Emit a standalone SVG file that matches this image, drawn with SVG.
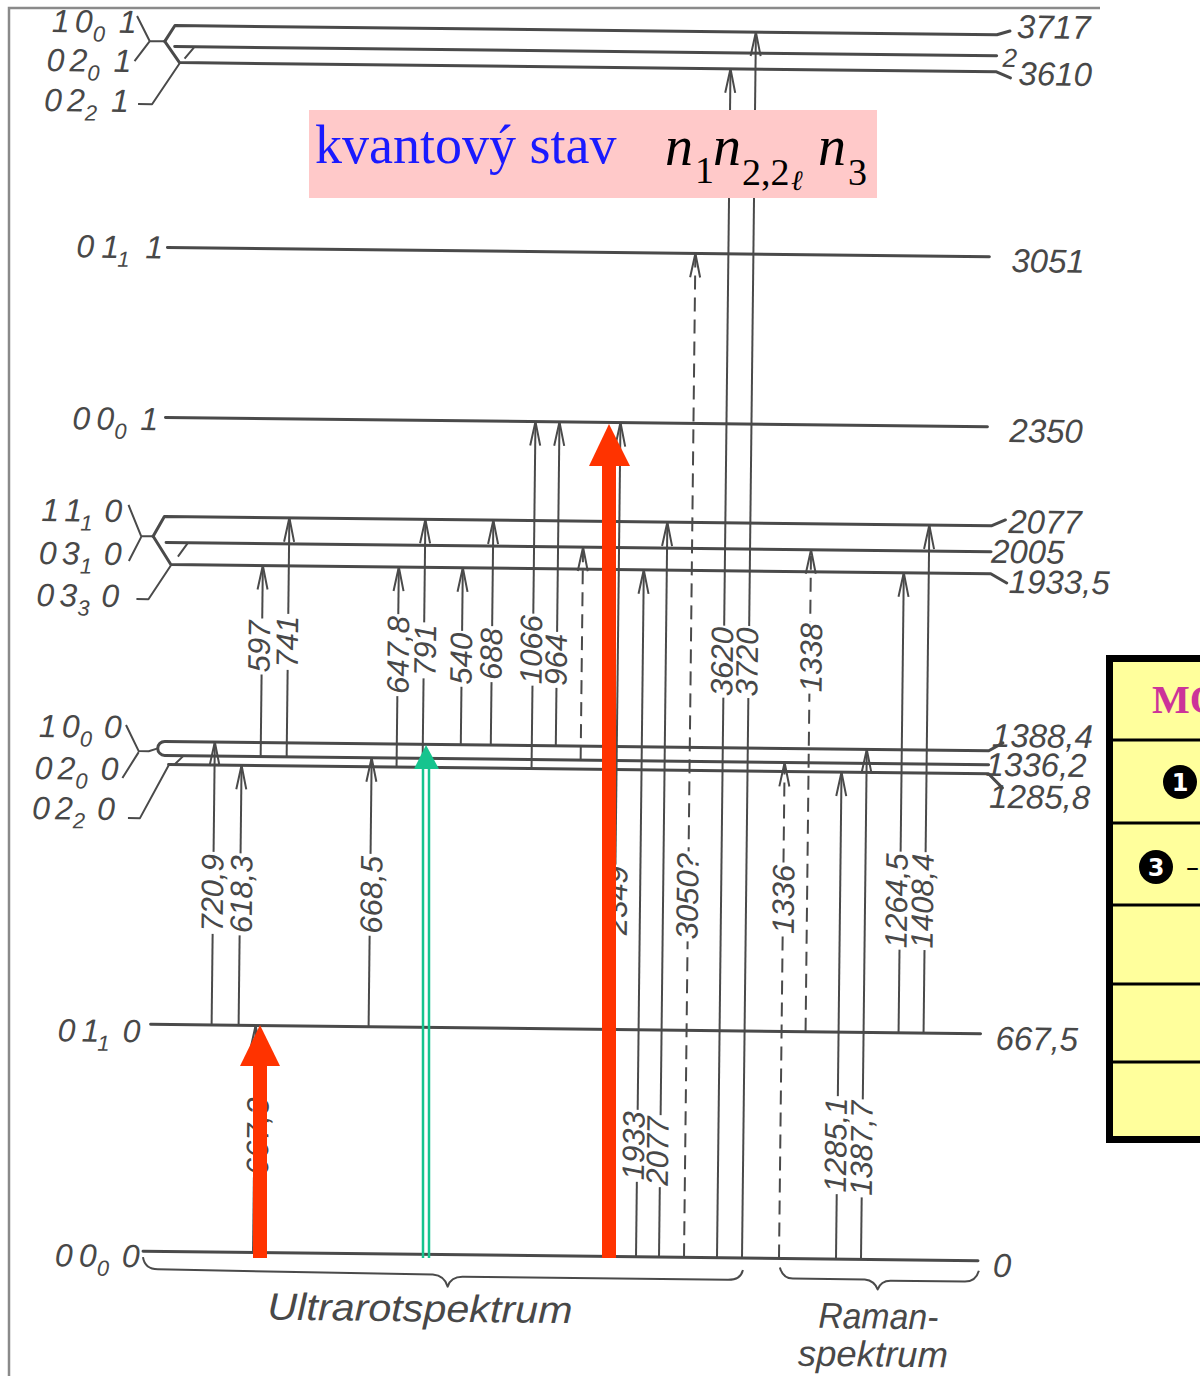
<svg xmlns="http://www.w3.org/2000/svg" width="1200" height="1376" viewBox="0 0 1200 1376">
<defs>
<marker id="ah" markerUnits="userSpaceOnUse" markerWidth="16" markerHeight="30" viewBox="-8 -2 16 30" refX="0" refY="0" orient="0" overflow="visible"><path d="M-5,24 L0,0 L5,24" fill="none" stroke="#4a4a4a" stroke-width="2"/></marker>
<style>
.lv{stroke:#4a4a4a;stroke-width:3;fill:none;stroke-linecap:round;stroke-linejoin:round}
.fk{stroke:#4a4a4a;stroke-width:2;fill:none;stroke-linejoin:round}
.tr{stroke:#4a4a4a;stroke-width:2;fill:none;marker-end:url(#ah)}
.ds{stroke-dasharray:14 8}
.lb{font-family:"Liberation Sans",Arial,sans-serif;font-style:italic;fill:#484848}
.ll{font-size:32px}
.sb{font-size:22px}
.rl{font-size:33px}
.vl text{font-size:31px;text-anchor:middle}
.vl rect{fill:#fff}
</style>
</defs>
<rect width="1200" height="1376" fill="#fff"/>
<path d="M9,1376 L9,8 L1100,8" fill="none" stroke="#8a8a8a" stroke-width="2.5"/>

<g transform="rotate(0.65 570 640)">
<g id="levels">
<path class="lv" d="M158,46 L168,30 L990,30 L1003,26"/>
<path class="lv" d="M168,51 L990,51"/>
<path class="lv" d="M158,46 L173,67 L990,67 L1004,73"/>
<path class="fk" d="M130,21 L143,46 L158,46 M128,66 L143,46 M188,51 L178,63 M132,109 L146,109 L173,68"/>
<path class="lv" d="M163,252 L985,252"/>
<path class="lv" d="M163,422 L985,422"/>
<path class="lv" d="M152,541 L163,521 L990,521 L1004,515"/>
<path class="lv" d="M165,547 L990,547"/>
<path class="lv" d="M152,541 L170,569 L990,569 L1006,578"/>
<path class="fk" d="M127,510 L140,541 L152,541 M128,566 L140,542 M187,547 L177,561 M136,604 L148,604 L170,570"/>
<path class="lv" d="M1004,738 L990,746 L166,746 A7,7 0 0 0 166,760 L990,760"/>
<path class="lv" d="M170,769 L990,769 L1004,783"/>
<path class="fk" d="M127,730 L140,756 L150,756 L159,753 M124,783 L140,757 M185,760 L176,769 M130,823 L142,823 L170,770"/>
<path class="lv" d="M155,1029 L985,1029"/>
<path class="lv" d="M150,1256 L985,1256"/>
</g>

<g id="connectors">
<path class="tr" d="M260,1256 L260,1029"/>
<path class="tr" d="M618,1256 L618,422"/>
<path class="tr" d="M643,1256 L643,569"/>
<path class="tr" d="M666,1256 L666,521"/>
<path class="tr ds" d="M691,1256 L691,252"/>
<path class="tr" d="M724,1256 L724,67"/>
<path class="tr" d="M749,1256 L749,30"/>
<path class="tr ds" d="M786,1256 L786,760"/>
<path class="tr" d="M843,1256 L843,769"/>
<path class="tr" d="M868,1256 L868,746"/>
<path class="tr" d="M216,1029 L216,746"/>
<path class="tr" d="M243,1029 L243,769"/>
<path class="tr" d="M373,1029 L373,760"/>
<path class="tr ds" d="M810,1029 L810,547"/>
<path class="tr" d="M903,1029 L903,569"/>
<path class="tr" d="M928,1029 L928,521"/>
<path class="tr" d="M262,760 L262,569"/>
<path class="tr" d="M288,760 L288,521"/>
<path class="tr" d="M398,769 L398,569"/>
<path class="tr" d="M424,769 L424,521"/>
<path class="tr" d="M462,746 L462,569"/>
<path class="tr" d="M492,746 L492,521"/>
<path class="tr" d="M533,769 L533,422"/>
<path class="tr" d="M557,746 L557,422"/>
<path class="tr ds" d="M582,760 L582,547"/>
</g>

<g id="transition-labels" class="lb vl">
<g transform="translate(259,650) rotate(-90)"><rect x="-28" y="-12" width="56" height="24"/><text y="11">597</text></g>
<g transform="translate(287,645) rotate(-90)"><rect x="-28" y="-12" width="56" height="24"/><text y="11">741</text></g>
<g transform="translate(398,657) rotate(-90)"><rect x="-41" y="-12" width="82" height="24"/><text y="11">647,8</text></g>
<g transform="translate(425,652) rotate(-90)"><rect x="-28" y="-12" width="56" height="24"/><text y="11">791</text></g>
<g transform="translate(461,660) rotate(-90)"><rect x="-28" y="-12" width="56" height="24"/><text y="11">540</text></g>
<g transform="translate(491,655) rotate(-90)"><rect x="-28" y="-12" width="56" height="24"/><text y="11">688</text></g>
<g transform="translate(531,650) rotate(-90)"><rect x="-36" y="-12" width="72" height="24"/><text y="11">1066</text></g>
<g transform="translate(556,660) rotate(-90)"><rect x="-28" y="-12" width="56" height="24"/><text y="11">964</text></g>
<g transform="translate(722,660) rotate(-90)"><rect x="-36" y="-12" width="72" height="24"/><text y="11">3620</text></g>
<g transform="translate(747,660) rotate(-90)"><rect x="-36" y="-12" width="72" height="24"/><text y="11">3720</text></g>
<g transform="translate(811,655) rotate(-90)"><rect x="-36" y="-12" width="72" height="24"/><text y="11">1338</text></g>
<g transform="translate(215,897) rotate(-90)"><rect x="-41" y="-12" width="82" height="24"/><text y="11">720,9</text></g>
<g transform="translate(244,898) rotate(-90)"><rect x="-41" y="-12" width="82" height="24"/><text y="11">618,3</text></g>
<g transform="translate(374,897) rotate(-90)"><rect x="-41" y="-12" width="82" height="24"/><text y="11">668,5</text></g>
<g transform="translate(619,900) rotate(-90)"><rect x="-36" y="-12" width="72" height="24"/><text y="11">2349</text></g>
<g transform="translate(690,895) rotate(-90)"><rect x="-45" y="-12" width="90" height="24"/><text y="11">3050?</text></g>
<g transform="translate(786,897) rotate(-90)"><rect x="-36" y="-12" width="72" height="24"/><text y="11">1336</text></g>
<g transform="translate(899,897) rotate(-90)"><rect x="-49" y="-12" width="98" height="24"/><text y="11">1264,5</text></g>
<g transform="translate(925,897) rotate(-90)"><rect x="-49" y="-12" width="98" height="24"/><text y="11">1408,4</text></g>
<g transform="translate(263,1140) rotate(-90)"><rect x="-41" y="-12" width="82" height="24"/><text y="11">667,3</text></g>
<g transform="translate(639,1145) rotate(-90)"><rect x="-36" y="-12" width="72" height="24"/><text y="11">1933</text></g>
<g transform="translate(663,1150) rotate(-90)"><rect x="-36" y="-12" width="72" height="24"/><text y="11">2077</text></g>
<g transform="translate(841,1142) rotate(-90)"><rect x="-49" y="-12" width="98" height="24"/><text y="11">1285,1</text></g>
<g transform="translate(867,1145) rotate(-90)"><rect x="-49" y="-12" width="98" height="24"/><text y="11">1387,7</text></g>
</g>

<g id="state-labels" class="lb ll">
<text x="45" y="38">1<tspan x="68">0</tspan><tspan x="86" dy="9" class="sb">0</tspan><tspan x="112" dy="-9">1</tspan></text>
<text x="40" y="77">0<tspan x="63">2</tspan><tspan x="81" dy="9" class="sb">0</tspan><tspan x="107" dy="-9">1</tspan></text>
<text x="38" y="117">0<tspan x="61">2</tspan><tspan x="79" dy="9" class="sb">2</tspan><tspan x="105" dy="-9">1</tspan></text>
<text x="72" y="263">0<tspan x="97">1</tspan><tspan x="113" dy="9" class="sb">1</tspan><tspan x="141" dy="-9">1</tspan></text>
<text x="70" y="435">0<tspan x="94">0</tspan><tspan x="112" dy="9" class="sb">0</tspan><tspan x="138" dy="-9">1</tspan></text>
<text x="40" y="527">1<tspan x="63">1</tspan><tspan x="79" dy="9" class="sb">1</tspan><tspan x="103" dy="-9">0</tspan></text>
<text x="38" y="570">0<tspan x="61">3</tspan><tspan x="79" dy="9" class="sb">1</tspan><tspan x="103" dy="-9">0</tspan></text>
<text x="36" y="612">0<tspan x="59">3</tspan><tspan x="77" dy="9" class="sb">3</tspan><tspan x="101" dy="-9">0</tspan></text>
<text x="40" y="743">1<tspan x="63">0</tspan><tspan x="81" dy="9" class="sb">0</tspan><tspan x="105" dy="-9">0</tspan></text>
<text x="36" y="785">0<tspan x="59">2</tspan><tspan x="77" dy="9" class="sb">0</tspan><tspan x="102" dy="-9">0</tspan></text>
<text x="34" y="825">0<tspan x="57">2</tspan><tspan x="75" dy="9" class="sb">2</tspan><tspan x="99" dy="-9">0</tspan></text>
<text x="62" y="1047">0<tspan x="86">1</tspan><tspan x="102" dy="9" class="sb">1</tspan><tspan x="127" dy="-9">0</tspan></text>
<text x="62" y="1272">0<tspan x="86">0</tspan><tspan x="104" dy="9" class="sb">0</tspan><tspan x="129" dy="-9">0</tspan></text>
</g>

<g id="energy-labels" class="lb rl">
<text x="1010" y="33">3717</text>
<text x="996" y="62" font-size="26">2</text>
<text x="1012" y="80">3610</text>
<text x="1007" y="267">3051</text>
<text x="1007" y="437">2350</text>
<text x="1007" y="528">2077</text>
<text x="990" y="558">2005</text>
<text x="1008" y="588">1933,5</text>
<text x="993" y="742">1388,4</text>
<text x="987" y="771">1336,2</text>
<text x="991" y="803">1285,8</text>
<text x="1000" y="1045">667,5</text>
<text x="1000" y="1272">0</text>
</g>

<g id="spectra">
<path class="fk" d="M150,1262 Q152,1274 165,1274 L440,1276 Q452,1277 455,1288 Q458,1278 470,1278 L735,1278 Q748,1278 750,1268"/>
<path class="fk" d="M787,1265 Q790,1276 800,1276 L872,1276 Q882,1277 885,1286 Q888,1277 898,1277 L972,1277 Q983,1277 986,1266"/>
<text class="lb" x="275" y="1323" font-size="38" textLength="305" lengthAdjust="spacingAndGlyphs">Ultrarotspektrum</text>
<text class="lb" x="826" y="1325" font-size="36" textLength="120" lengthAdjust="spacingAndGlyphs">Raman-</text>
<text class="lb" x="806" y="1363" font-size="36" textLength="150" lengthAdjust="spacingAndGlyphs">spektrum</text>
</g>
</g>

<g id="overlay-red-1">
<rect x="253" y="1062" width="14" height="196" fill="#ff3300"/>
<polygon points="240,1066 260,1025 280,1066" fill="#ff3300"/>
</g>
<g id="overlay-red-2">
<rect x="602" y="462" width="14" height="796" fill="#ff3300"/>
<polygon points="589,466 609,424 630,466" fill="#ff3300"/>
</g>
<g id="overlay-green">
<path d="M423,766 L423,1258 M429,766 L429,1258" stroke="#16c48e" stroke-width="2.5" fill="none"/>
<polygon points="414,769 426,745 439,769" fill="#16c48e"/>
</g>

<g id="title">
<rect x="309" y="110" width="568" height="88" fill="#ffc9c9"/>
<text x="315" y="163" font-family="'Liberation Serif','Times New Roman',serif" font-size="54" fill="#1a1aff">kvantový stav</text>
<g font-family="'Liberation Serif','Times New Roman',serif" fill="#000">
<text x="665" y="165" font-size="56" font-style="italic">n</text>
<text x="695" y="183" font-size="38">1</text>
<text x="713" y="165" font-size="56" font-style="italic">n</text>
<text x="742" y="185" font-size="38">2,2</text>
<text x="791" y="190" font-size="28" font-style="italic">ℓ</text>
<text x="818" y="165" font-size="56" font-style="italic">n</text>
<text x="848" y="185" font-size="38">3</text>
</g>
</g>

<g id="table">
<rect x="1109.5" y="658.5" width="120" height="481" fill="#ffff9c" stroke="#000" stroke-width="7"/>
<path d="M1112,740 H1200 M1112,823 H1200 M1112,905 H1200 M1112,984 H1200 M1112,1062 H1200" stroke="#000" stroke-width="3"/>
<text x="1152" y="713" font-family="'Liberation Serif','Times New Roman',serif" font-weight="bold" font-size="40" fill="#cc3399">MO</text>
<circle cx="1180" cy="782" r="17" fill="#000"/>
<text x="1180" y="791" text-anchor="middle" font-family="'DejaVu Sans',sans-serif" font-weight="bold" font-size="24" fill="#fff">1</text>
<circle cx="1156" cy="867" r="17" fill="#000"/>
<text x="1156" y="876" text-anchor="middle" font-family="'DejaVu Sans',sans-serif" font-weight="bold" font-size="24" fill="#fff">3</text>
<text x="1186" y="876" font-family="'DejaVu Sans',sans-serif" font-size="26" fill="#000">–</text>
</g>
</svg>
